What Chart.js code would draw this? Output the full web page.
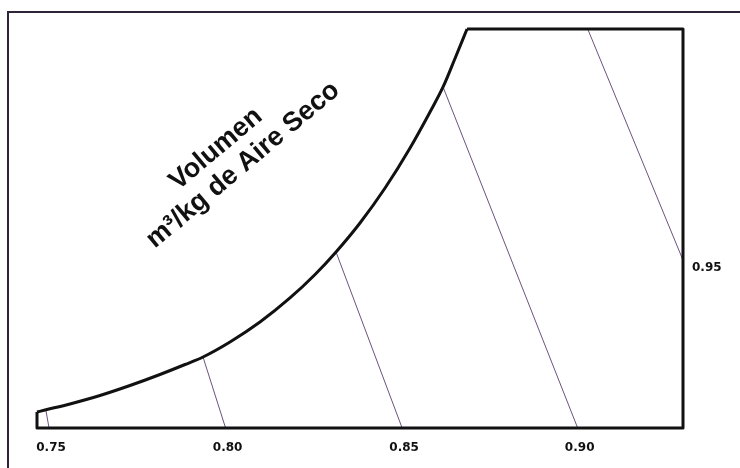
<!DOCTYPE html>
<html>
<head>
<meta charset="utf-8">
<script src="https://cdn.jsdelivr.net/npm/chart.js@4"></script>
<style>
  html, body { margin: 0; padding: 0; background: #fff; }
  .wrap { position: relative; width: 740px; height: 468px; }
  .marco { position: absolute; left: 7px; top: 11px; right: -4px; bottom: -4px;
           border-top: 2px solid #2e2438; border-left: 2px solid #2e2438; }
  canvas { position: absolute; left: 0; top: 0; }
</style>
</head>
<body>
<div class="wrap">
  <div class="marco"></div>
  <canvas id="carta" width="740" height="468"></canvas>
</div>
<script>
// ===== Curva de saturacion (temperatura seca °C, humedad g/kg) =====
const curvaT = [-9.4, -8.6, -6.11, -3.12, -0.13, 2.86, 5.36, 7.15, 9.84, 12.83, 15.82, 18.32, 20.41, 22.80, 25.30, 27.79, 29.78, 31.08, 32.27, 33.47];
const curvaW = [1.36, 1.53, 2.05, 2.77, 3.62, 4.56, 5.41, 6.05, 7.33, 9.03, 11.08, 13.08, 15.0, 17.47, 20.45, 23.86, 26.93, 29.06, 31.49, 34.0];

// ===== Borde de la carta =====
const bordeT = [33.47, 55.0, 55.0, -9.4, -9.4];
const bordeW = [34.0, 34.0, 0, 0, 1.36];

// ===== Lineas de volumen especifico =====
const volEtiquetas = ['0.75', '0.80', '0.85', '0.90', '0.95'];
const volIniT = [-8.5, 7.15, 20.41, 31.08, 45.5];
const volIniW = [1.45, 6.05, 15.0, 29.06, 34.0];
const volFinT = [-8.2, 9.4, 27.0, 44.5, 55.0];
const volFinW = [0, 0, 0, 0, 14.3];

const titulo = ['Volumen', 'm³/kg de Aire Seco'];
const tituloT = [8.45, 11.14];
const tituloW = [23.77, 22.41];

const puntos = (xs, ys) => xs.map((x, i) => ({ x: x, y: ys[i] }));

const datasets = [
    {
        data: puntos(curvaT, curvaW),
        borderColor: '#111',
        borderWidth: 3,
        cubicInterpolationMode: 'monotone',
        pointRadius: 0,
        clip: false,
    },
    {
        data: puntos(bordeT, bordeW),
        borderColor: '#111',
        borderWidth: 3,
        borderJoinStyle: 'round',
        pointRadius: 0,
        clip: false,
    }
];
volEtiquetas.forEach((v, i) => {
    datasets.push({
        data: [{ x: volIniT[i], y: volIniW[i] }, { x: volFinT[i], y: volFinW[i] }],
        borderColor: 'rgba(92,64,112,0.9)',
        borderWidth: 1,
        pointRadius: 0,
        clip: false,
    });
});

const textos = {
    id: 'textos',
    afterDatasetsDraw(chart) {
        const ctx = chart.ctx;
        const sx = chart.scales.x, sy = chart.scales.y;
        ctx.save();
        ctx.fillStyle = '#111';
        ctx.font = 'bold 12px "DejaVu Sans"';
        ctx.textBaseline = 'middle';
        volEtiquetas.forEach((v, i) => {
            const px = sx.getPixelForValue(volFinT[i]);
            const py = sy.getPixelForValue(volFinW[i]);
            if (volFinW[i] === 0) {
                ctx.textAlign = 'center';
                ctx.fillText(v, px + 2, py + 20);
            } else {
                ctx.textAlign = 'left';
                ctx.fillText(v, px + 9, py + 8);
            }
        });
        ctx.font = 'bold 27px "Liberation Sans"';
        ctx.textAlign = 'center';
        titulo.forEach((t, i) => {
            ctx.save();
            ctx.translate(sx.getPixelForValue(tituloT[i]), sy.getPixelForValue(tituloW[i]));
            ctx.rotate(-40 * Math.PI / 180);
            ctx.fillText(t, 0, 0);
            ctx.restore();
        });
        ctx.restore();
    }
};

new Chart(document.getElementById('carta'), {
    type: 'scatter',
    data: { datasets: datasets },
    options: {
        responsive: false,
        animation: false,
        showLine: true,
        layout: { padding: { left: 37, right: 57, top: 29, bottom: 40 } },
        plugins: { legend: { display: false }, tooltip: { enabled: false } },
        scales: {
            x: { type: 'linear', min: -9.4, max: 55, display: false },
            y: { type: 'linear', min: 0, max: 34, display: false }
        }
    },
    plugins: [textos]
});
</script>
</body>
</html>
